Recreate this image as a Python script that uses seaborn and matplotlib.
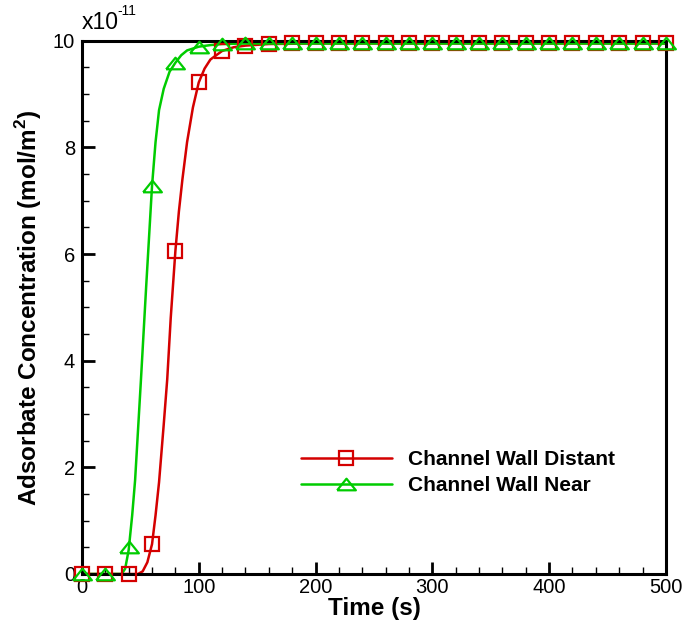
import numpy as np
import pandas as pd
import matplotlib
matplotlib.use("Agg")
import matplotlib.pyplot as plt
from matplotlib.lines import Line2D
from matplotlib.ticker import MultipleLocator
import seaborn as sns

# marker data (every 20 s), values in units of 1e-11 mol/m^2
t_mark = [0, 20, 40, 60, 80, 100, 120, 140, 160, 180, 200, 220, 240, 260,
          280, 300, 320, 340, 360, 380, 400, 420, 440, 460, 480, 500]
distant_mark = [0, 0, 0, 0.56, 6.06, 9.22, 9.81, 9.91, 9.94, 9.95, 9.95, 9.95, 9.95,
                9.95, 9.95, 9.95, 9.95, 9.95, 9.95, 9.95, 9.95, 9.95, 9.95, 9.95, 9.95, 9.95]
near_mark = [0, 0, 0.5, 7.28, 9.59, 9.89, 9.94, 9.95, 9.95, 9.95, 9.95, 9.95, 9.95,
             9.95, 9.95, 9.95, 9.95, 9.95, 9.95, 9.95, 9.95, 9.95, 9.95, 9.95, 9.95, 9.95]

# curve data
t_distant = [0, 40, 48, 52, 56, 60, 63, 66, 70, 73, 76, 80, 83, 86, 90, 95, 100,
             105, 110, 120, 130, 140, 160, 200, 500]
distant_line = [0, 0, 0.0, 0.05, 0.22, 0.56, 1.1, 1.72, 2.8, 3.65, 4.8, 6.06, 6.8,
                7.4, 8.1, 8.75, 9.22, 9.48, 9.65, 9.81, 9.88, 9.91, 9.94, 9.95, 9.95]
t_near = [0, 30, 34, 37, 40, 43, 45.5, 50.5, 55, 60, 63, 66, 70, 75, 80, 85, 90,
          100, 110, 120, 140, 500]
near_line = [0, 0, 0.0, 0.1, 0.45, 1.1, 1.76, 3.64, 5.4, 7.28, 8.1, 8.7, 9.1, 9.42,
             9.59, 9.73, 9.82, 9.89, 9.92, 9.94, 9.95, 9.95]

series_names = ["Channel Wall Distant", "Channel Wall Near"]
colors = {"Channel Wall Distant": "#d40000", "Channel Wall Near": "#00cc00"}
tri = [(-1.0, -0.62), (1.0, -0.62), (0.0, 0.62), (-1.0, -0.62)]
markers = {"Channel Wall Distant": "s", "Channel Wall Near": tri}
msizes = {"Channel Wall Distant": 9.5, "Channel Wall Near": 13.5}

sns.set_theme(style="white")
plt.rcParams["font.family"] = ["Liberation Sans", "DejaVu Sans"]
plt.rcParams["mathtext.fontset"] = "custom"
plt.rcParams["mathtext.rm"] = "Liberation Sans"
plt.rcParams["mathtext.bf"] = "Liberation Sans:bold"
plt.rcParams["text.color"] = "black"
plt.rcParams["axes.labelcolor"] = "black"
plt.rcParams["xtick.color"] = "black"
plt.rcParams["ytick.color"] = "black"

fig = plt.figure(figsize=(6.83, 6.28), dpi=100)
ax = fig.add_axes([0.12, 0.086, 0.855, 0.849])

lines_df = pd.concat([
    pd.DataFrame({"t": t_distant, "c": distant_line, "s": series_names[0]}),
    pd.DataFrame({"t": t_near, "c": near_line, "s": series_names[1]}),
])
mark_df = pd.concat([
    pd.DataFrame({"t": t_mark, "c": distant_mark, "s": series_names[0]}),
    pd.DataFrame({"t": t_mark, "c": near_mark, "s": series_names[1]}),
])

sns.lineplot(data=lines_df, x="t", y="c", hue="s", palette=colors, linewidth=1.8,
             legend=False, ax=ax, sort=False, estimator=None)
for name in series_names:
    sub = mark_df[mark_df["s"] == name]
    ax.plot(sub["t"], sub["c"], linestyle="none", marker=markers[name],
            markersize=msizes[name], markerfacecolor="none",
            markeredgecolor=colors[name], markeredgewidth=1.6, clip_on=False, zorder=5)

ax.set_xlim(0, 500)
ax.set_ylim(0, 10)
ax.xaxis.set_major_locator(MultipleLocator(100))
ax.xaxis.set_minor_locator(MultipleLocator(20))
ax.yaxis.set_major_locator(MultipleLocator(2))
ax.yaxis.set_minor_locator(MultipleLocator(0.5))
ax.tick_params(which="major", direction="in", length=9, width=2.0, labelsize=14.5,
               bottom=True, left=True, top=False, right=False, colors="black")
ax.tick_params(which="minor", direction="in", length=5, width=1.0,
               bottom=True, left=True, top=False, right=False, colors="black")
ax.tick_params(axis="x", which="major", pad=3)
ax.tick_params(axis="y", which="major", pad=5)
for sp in ax.spines.values():
    sp.set_color("black")
    sp.set_linewidth(2.2)

ax.set_xlabel("Time (s)", fontsize=17.5, fontweight="bold", labelpad=0)
ax.set_ylabel(r"Adsorbate Concentration (mol/m$^\mathbf{2}$)", fontsize=17.5,
              fontweight="bold", labelpad=6)
ax.text(0.0, 1.012, "x10", transform=ax.transAxes, fontsize=16.5,
        ha="left", va="bottom", color="black")
ax.text(0.061, 1.042, "-11", transform=ax.transAxes, fontsize=10,
        ha="left", va="bottom", color="black")

handles = [Line2D([0], [0], color=colors[n], linewidth=1.8, marker=markers[n],
                  markersize=msizes[n], markerfacecolor="none",
                  markeredgewidth=1.6) for n in series_names]
leg = ax.legend(handles, series_names, loc="upper left", bbox_to_anchor=(0.36, 0.248),
                frameon=False, handlelength=4.4, handletextpad=0.75, labelspacing=0.35,
                prop={"size": 15, "weight": "bold"}, borderaxespad=0)
for t in leg.get_texts():
    t.set_color("black")

fig.savefig("out.png", dpi=100)
